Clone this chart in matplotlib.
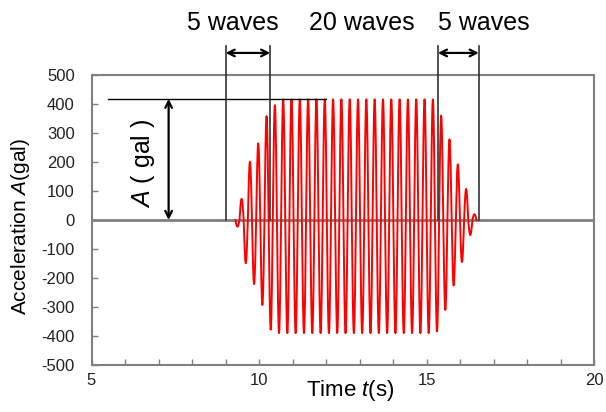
import numpy as np
import matplotlib
matplotlib.use("Agg")
import matplotlib.pyplot as plt

plt.rcParams["font.family"] = ["Liberation Sans", "DejaVu Sans"]
plt.rcParams["mathtext.fontset"] = "custom"
plt.rcParams["mathtext.rm"] = "Liberation Sans"
plt.rcParams["mathtext.it"] = "Liberation Sans:italic"
plt.rcParams["axes.unicode_minus"] = False

# Signed peak value of each half-cycle of the tapered sine input (gal)
ramp_up = [-23, 73, -149, 201, -221, 264, -293, 358, -378, 396]
steady = [-390, 416] * 19
ramp_down = [-384, 360, -310, 278, -226, 192, -145, 107, -52, 20]
half_peaks = ramp_up + steady + ramp_down

t_start = 9.29          # s, onset of the motion
half_period = 0.124     # s

# Annotation values
amp_level = 418                       # gal, amplitude A
section_bounds = [9.0, 10.33, 15.33, 16.55]   # s
section_labels = ["5 waves", "20 waves", "5 waves"]
section_label_x = [9.2, 13.05, 16.7]

x_ticks = [5, 10, 15, 20]
y_ticks = list(range(-500, 501, 100))

# Build the waveform: each half-cycle is a half-sine lobe with its peak value
n_sub = 24
tt, yy = [], []
for k, pk in enumerate(half_peaks):
    tau = np.linspace(0, 1, n_sub, endpoint=False)
    tt.append(t_start + (k + tau) * half_period)
    yy.append(pk * np.sin(np.pi * tau))
tt.append([t_start + len(half_peaks) * half_period])
yy.append([0.0])
t = np.concatenate(tt)
acc = np.concatenate(yy)

fig = plt.figure(figsize=(6.06, 4.12), dpi=100)
ax = fig.add_axes([0.151, 0.114, 0.830, 0.704])

ax.plot(t, acc, color="#ff0000", lw=1.4, zorder=3)
ax.axhline(0, color="#808080", lw=2.0, zorder=2)

ax.set_xlim(5, 20)
ax.set_ylim(-500, 500)
ax.set_xticks(x_ticks)
ax.set_xticks(np.arange(5, 21, 1), minor=True)
ax.set_yticks(y_ticks)
ax.tick_params(axis="x", which="both", direction="in", length=4, width=1,
               color="#808080", labelsize=12, pad=6, labelcolor="#222222")
ax.tick_params(axis="y", which="both", direction="in", length=4, width=1,
               color="#808080", labelsize=12, pad=12, labelcolor="#222222")
for s in ax.spines.values():
    s.set_color("#808080")
    s.set_linewidth(1.5)

ax.set_xlabel("Time $t$(s)", fontsize=16)
ax.set_ylabel("Acceleration $A$(gal)", fontsize=15)
ax.xaxis.set_label_coords(0.514, -0.045)
ax.yaxis.set_label_coords(-0.118, 0.476)

# Amplitude marker
ax.plot([5.5, 12.0], [amp_level, amp_level], color="black", lw=1.0, zorder=4)
ax.annotate("", xy=(7.3, amp_level), xytext=(7.3, 0),
            arrowprops=dict(arrowstyle="<->", color="black", lw=1.6,
                            mutation_scale=12, shrinkA=0, shrinkB=0),
            zorder=5)
ax.text(6.55, 197, "$A$ ( gal )", rotation=90, fontsize=18,
        ha="center", va="center")

# Section boundaries and widths above the plot
for xb in section_bounds:
    ax.plot([xb, xb], [0, 600], color="#333333", lw=1.2, clip_on=False,
            zorder=4)
for a, b in [(section_bounds[0], section_bounds[1]),
             (section_bounds[2], section_bounds[3])]:
    ax.annotate("", xy=(b, 576), xytext=(a, 576), annotation_clip=False,
                arrowprops=dict(arrowstyle="<->", color="black", lw=1.6,
                                mutation_scale=12, shrinkA=0, shrinkB=0))
for lx, lab in zip(section_label_x, section_labels):
    ax.text(lx, 679, lab, fontsize=18, ha="center", va="center",
            clip_on=False)

fig.savefig("out.png", dpi=100)
